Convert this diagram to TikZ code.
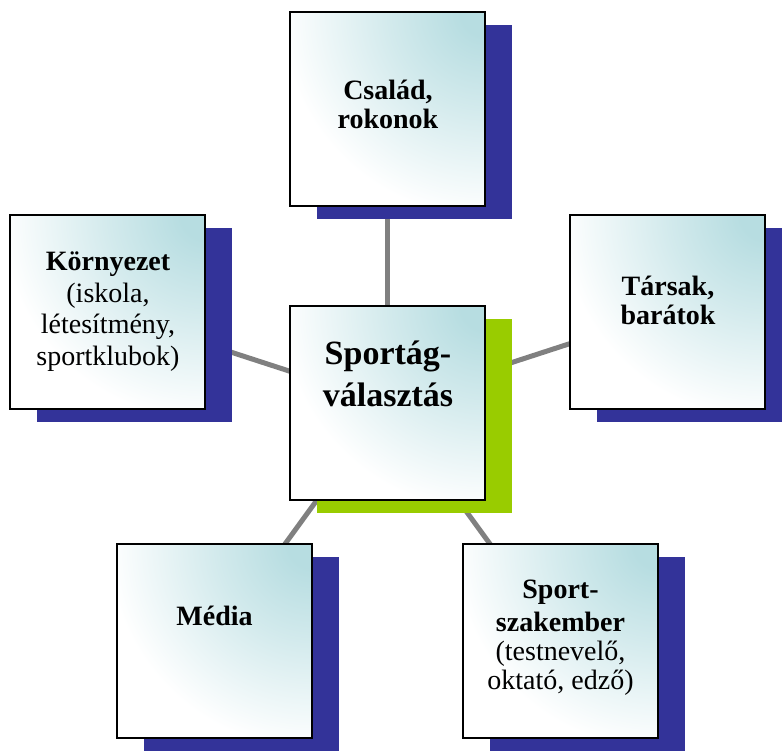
\documentclass[tikz,border=0pt]{standalone}
\usepackage{fontspec}
\setmainfont{Liberation Serif}
\usetikzlibrary{shadows,backgrounds}

\definecolor{boxteal}{RGB}{183,221,225}
\definecolor{shadownavy}{RGB}{51,51,153}
\definecolor{shadowgreen}{RGB}{153,204,0}
\definecolor{linkgray}{RGB}{128,128,128}

% soft glow from the upper right corner of each box
\pgfdeclareradialshading{cornerglow}{\pgfpointorigin}{%
  color(0bp)=(boxteal); color(2bp)=(boxteal);
  color(8bp)=(boxteal!62!white); color(17bp)=(white); color(50bp)=(white)}

\tikzset{
  box/.style={draw=black, line width=2pt, fill=white,
    minimum width=195pt, minimum height=194pt, inner sep=0pt,
    path picture={\shade[shading=cornerglow]
      (path picture bounding box.north east) circle (300pt);}},
  navyshadow/.style={drop shadow={shadow xshift=27pt, shadow yshift=-13.5pt,
    fill=shadownavy, opacity=1}},
  greenshadow/.style={drop shadow={shadow xshift=27pt, shadow yshift=-13.5pt,
    fill=shadowgreen, opacity=1}},
  link/.style={draw=linkgray, line width=5pt},
  outertext/.style={font=\fontsize{28}{29}\selectfont, align=center, inner sep=0pt},
  maintext/.style={font=\fontsize{34}{42}\selectfont\bfseries, align=center, inner sep=0pt}
}

\begin{document}
\begin{tikzpicture}[x=1pt, y=1pt]
\useasboundingbox (0,0) rectangle (782,752);

% boxes
\node[box, navyshadow]  (family)  at (387.5,643) {};
\node[box, navyshadow]  (env)     at (107.5,440) {};
\node[box, navyshadow]  (friends) at (667,440)   {};
\node[box, navyshadow]  (media)   at (214.5,111) {};
\node[box, navyshadow]  (coach)   at (560.5,111) {};
\node[box, greenshadow] (choice)  at (387.5,349) {};

% connectors behind everything
\begin{scope}[on background layer]
  \draw[link] (choice.center) -- (family.center);
  \draw[link] (choice.center) -- (env.center);
  \draw[link] (choice.center) -- (friends.center);
  \draw[link] (choice.center) -- (media.center);
  \draw[link] (choice.center) -- (coach.center);
\end{scope}

% labels
\node[outertext] (familyt)  at (388,647.3) {\textbf{Család,}\\\textbf{rokonok}};
\node[outertext, font=\fontsize{28}{31.5}\selectfont] (envt) at (108,440.5)
  {\textbf{Környezet}\\(iskola,\\létesítmény,\\sportklubok)};
\node[outertext] (friendst) at (668,451.3) {\textbf{Társak,}\\\textbf{barátok}};
\node[outertext] (mediat)   at (214.5,136) {\textbf{Média}};
\node[outertext] (coacht)   at (560.5,114) {\textbf{Sport-}\\[4pt]\textbf{szakember}\\(testnevelő,\\oktató, edző)};
\node[maintext]  (choicet)  at (388,378.3) {Sportág-\\választás};
\end{tikzpicture}
\end{document}
